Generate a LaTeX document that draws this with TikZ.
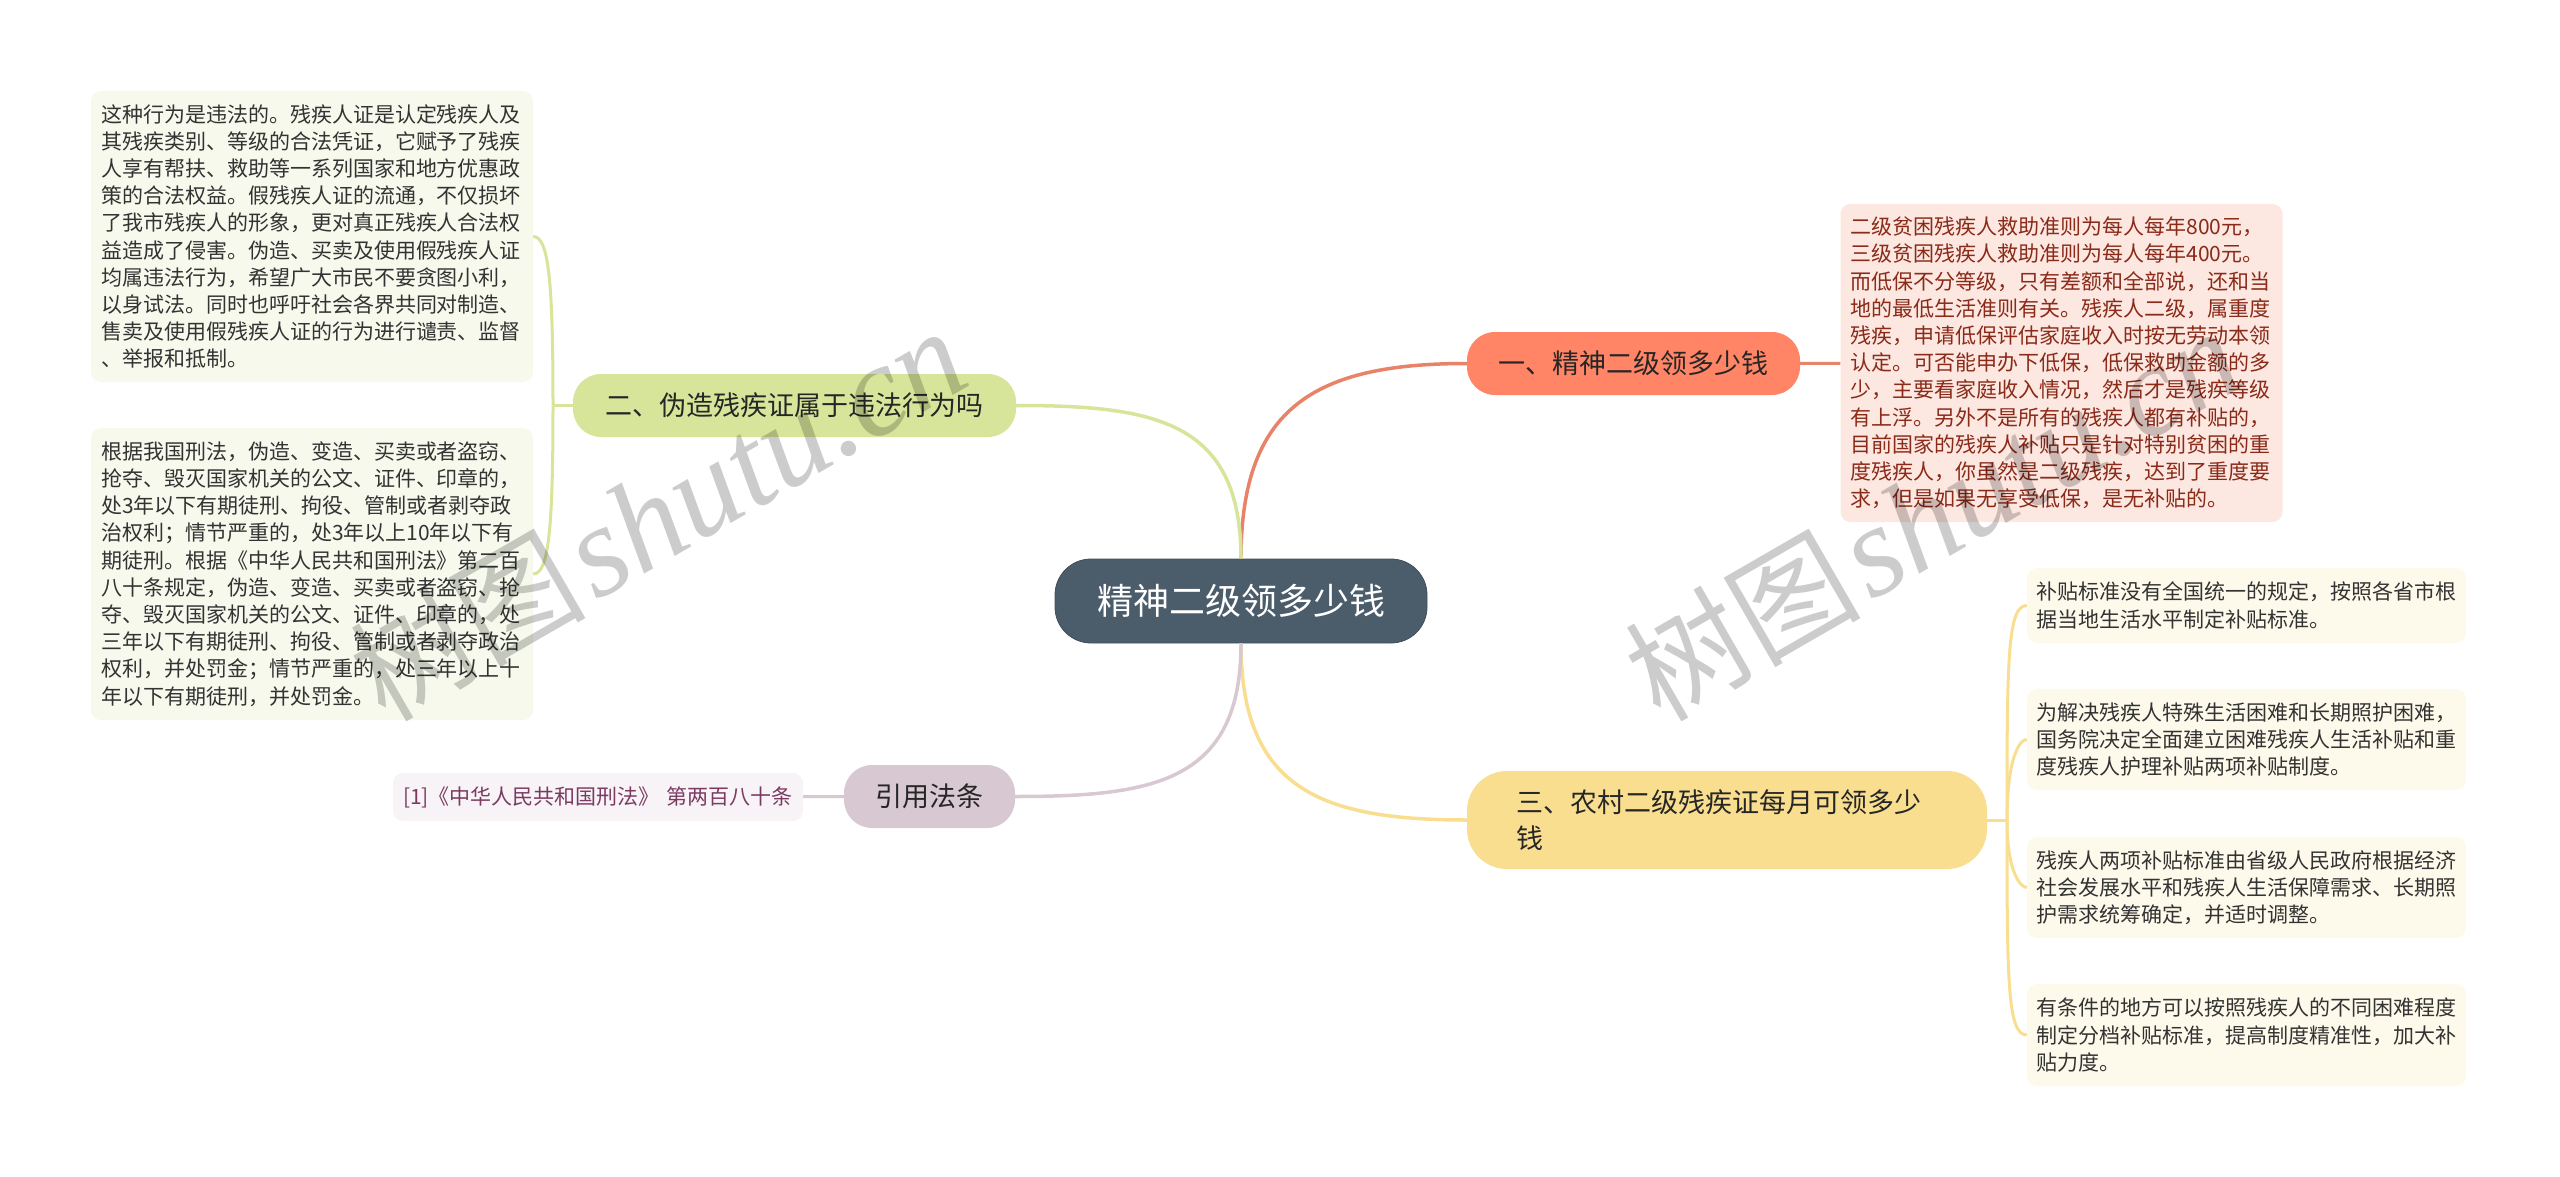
\documentclass[tikz,border=0pt]{standalone}
\usepackage{fontspec}
\setmainfont{Noto Sans CJK SC}
\newfontfamily\markfont{Liberation Serif}[Scale=1.1]
\definecolor{rootfill}{HTML}{4B5C6B}
\definecolor{onefill}{HTML}{FF8566}
\definecolor{oneline}{HTML}{E8836A}
\definecolor{oneleaf}{HTML}{FDE7E1}
\definecolor{onetext}{HTML}{8A2A18}
\definecolor{twofill}{HTML}{D6E59A}
\definecolor{twoleaf}{HTML}{F6F9EC}
\definecolor{threefill}{HTML}{F8DE8E}
\definecolor{threeleaf}{HTML}{FEFAEB}
\definecolor{citefill}{HTML}{D8C8D2}
\definecolor{citeleaf}{HTML}{F7F3F6}
\definecolor{citetext}{HTML}{7C3A62}
\tikzset{
        root/.style={text=white, fill=rootfill, draw=rootfill!85!black, line width=0.8pt, rounded corners=36pt, minimum width=372pt, minimum height=84pt, inner sep=0pt, font=\fontsize{36}{42}\selectfont},
        branch/.style={text=black!85, rounded corners=28pt, minimum height=63pt, inner sep=0pt, font=\fontsize{27}{36}\selectfont},
        leaf/.style={text=black!80, rounded corners=10pt, text width=422pt, inner xsep=10pt, inner ysep=0pt, align=left, font=\fontsize{21}{27.2}\selectfont},
        leafthree/.style={leaf, fill=threeleaf, text width=420pt, inner xsep=9.5pt},
        link/.style={line width=3pt},
        trunk/.style={line width=3.5pt, looseness=1.3},
        twig/.style={line width=3pt, out looseness=1.9, in looseness=0.23},
        watermark/.style={text=black, opacity=0.2, rotate=30, font=\fontsize{118}{118}\selectfont\itshape}
          }
\begin{document}
\begin{tikzpicture}[x=1pt, y=-1pt]
            \useasboundingbox (0,0) rectangle (2560,1177);
            \node[root] (main) at (1241,601) {精神二级领多少钱};
            \node[branch, fill=onefill, minimum width=333pt] (one) at (1633.5,363.5) {一、精神二级领多少钱};
            \node[branch, fill=twofill, minimum width=443pt] (two) at (794.5,405.5) {二、伪造残疾证属于违法行为吗};
            \node[branch, fill=threefill, minimum width=520pt, minimum height=98pt, rounded corners=40pt, text width=422pt, inner xsep=49pt, align=left] (three) at (1727,820) {三、农村二级残疾证每月可领多少\\钱};
            \node[branch, fill=citefill, minimum width=171pt] (cite) at (929.5,796.5) {引用法条};
            \node[leaf, fill=twoleaf, minimum height=291pt] (twoa) at (312,236.5) {这种行为是违法的。残疾人证是认定残疾人及\\其残疾类别、等级的合法凭证，它赋予了残疾\\人享有帮扶、救助等一系列国家和地方优惠政\\策的合法权益。假残疾人证的流通，不仅损坏\\了我市残疾人的形象，更对真正残疾人合法权\\益造成了侵害。伪造、买卖及使用假残疾人证\\均属违法行为，希望广大市民不要贪图小利，\\以身试法。同时也呼吁社会各界共同对制造、\\售卖及使用假残疾人证的行为进行谴责、监督\\、举报和抵制。};
            \node[leaf, fill=twoleaf, minimum height=292pt] (twob) at (312,574) {根据我国刑法，伪造、变造、买卖或者盗窃、\\抢夺、毁灭国家机关的公文、证件、印章的，\\处3年以下有期徒刑、拘役、管制或者剥夺政\\治权利；情节严重的，处3年以上10年以下有\\期徒刑。根据《中华人民共和国刑法》第二百\\八十条规定，伪造、变造、买卖或者盗窃、抢\\夺、毁灭国家机关的公文、证件、印章的，处\\三年以下有期徒刑、拘役、管制或者剥夺政治\\权利，并处罚金；情节严重的，处三年以上十\\年以下有期徒刑，并处罚金。};
            \node[leaf, fill=oneleaf, text=onetext, minimum height=318pt] (onea) at (2061.5,363) {二级贫困残疾人救助准则为每人每年800元，\\三级贫困残疾人救助准则为每人每年400元。\\而低保不分等级，只有差额和全部说，还和当\\地的最低生活准则有关。残疾人二级，属重度\\残疾，申请低保评估家庭收入时按无劳动本领\\认定。可否能申办下低保，低保救助金额的多\\少，主要看家庭收入情况，然后才是残疾等级\\有上浮。另外不是所有的残疾人都有补贴的，\\目前国家的残疾人补贴只是针对特别贫困的重\\度残疾人，你虽然是二级残疾，达到了重度要\\求，但是如果无享受低保，是无补贴的。};
            \node[leafthree, minimum height=75pt] (threea) at (2246.5,605.5) {补贴标准没有全国统一的规定，按照各省市根\\据当地生活水平制定补贴标准。};
            \node[leafthree, minimum height=101pt] (threeb) at (2246.5,739.5) {为解决残疾人特殊生活困难和长期照护困难，\\国务院决定全面建立困难残疾人生活补贴和重\\度残疾人护理补贴两项补贴制度。};
            \node[leafthree, minimum height=101pt] (threec) at (2246.5,887.5) {残疾人两项补贴标准由省级人民政府根据经济\\社会发展水平和残疾人生活保障需求、长期照\\护需求统筹确定，并适时调整。};
            \node[leafthree, minimum height=102pt] (threed) at (2246.5,1035) {有条件的地方可以按照残疾人的不同困难程度\\制定分档补贴标准，提高制度精准性，加大补\\贴力度。};
            \node[leaf, fill=citeleaf, text=citetext, minimum height=48pt, text width=410pt, inner xsep=0pt, align=center] (citea) at (598,797) {[1]《中华人民共和国刑法》 第两百八十条};
            \coordinate (twofork) at (553,405.5);
            \coordinate (threefork) at (2007,820);
            \draw[trunk, draw=oneline] (main.north) to[out=90, in=180] (one.west);
            \draw[trunk, draw=twofill] (main.north) to[out=90, in=0] (two.east);
            \draw[trunk, draw=threefill] (main.south) to[out=-90, in=180] (three.west);
            \draw[trunk, draw=citefill] (main.south) to[out=-90, in=0] (cite.east);
            \draw[link, draw=oneline] (one) -- (onea);
            \draw[link, draw=citefill] (cite) -- (citea);
            \draw[link, draw=twofill] (two.west) -- (twofork);
            \draw[twig, draw=twofill] (twofork) to[out=90, in=0] (twoa.east);
            \draw[twig, draw=twofill] (twofork) to[out=-90, in=0] (twob.east);
            \draw[link, draw=threefill] (three.east) -- (threefork);
            \draw[twig, draw=threefill] (threefork) to[out=90, in=180] (threea.west);
            \draw[twig, draw=threefill] (threefork) to[out=90, in=180] (threeb.west);
            \draw[twig, draw=threefill] (threefork) to[out=-90, in=180] (threec.west);
            \draw[twig, draw=threefill] (threefork) to[out=-90, in=180] (threed.west);
            \node[watermark] (marka) at (657.5,514.5) {树图 \kern-18pt{\markfont shutu.cn}};
            \node[watermark] (markb) at (1932.5,514.5) {树图 \kern-18pt{\markfont shutu.cn}};
          \end{tikzpicture}
\end{document}
